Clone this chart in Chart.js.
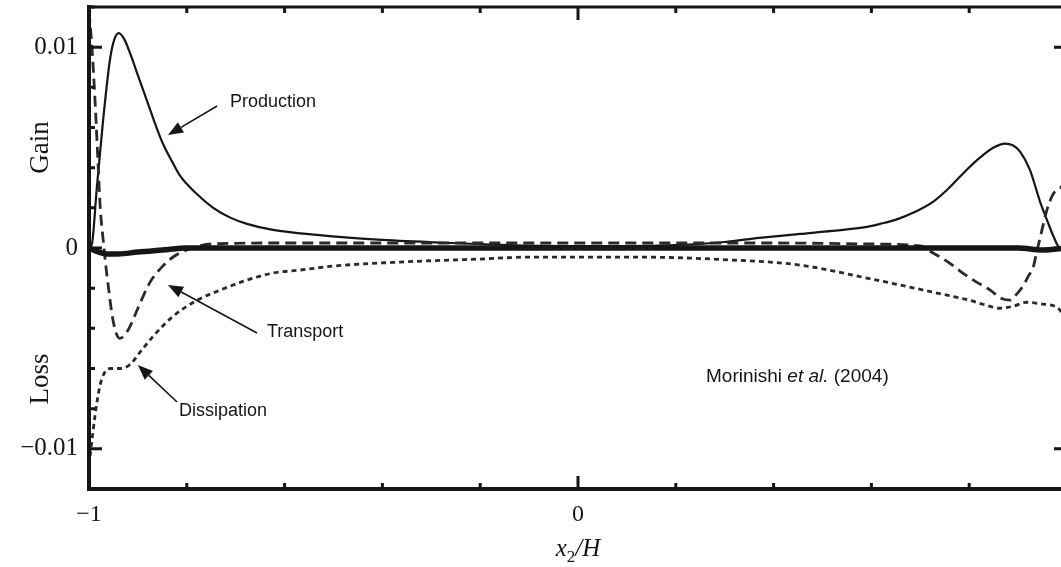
<!DOCTYPE html>
<html>
<head>
<meta charset="utf-8">
<script src="https://cdn.jsdelivr.net/npm/chart.js@4.4.1/dist/chart.umd.min.js"></script>
<style>
  html, body { margin: 0; padding: 0; background: #fff; overflow: hidden; }
  #wrap { width: 1075px; height: 567px; }
</style>
</head>
<body>
<div id="wrap"><canvas id="budget" width="1075" height="567"></canvas></div>
<script>
const prodX = [-1.0, -0.994, -0.984, -0.971, -0.957, -0.948, -0.939, -0.928, -0.916, -0.9, -0.881, -0.865, -0.849, -0.83, -0.814, -0.78, -0.746, -0.71, -0.677, -0.624, -0.534, -0.4, -0.26, -0.1, 0.0, 0.1, 0.2, 0.3, 0.37, 0.454, 0.52, 0.591, 0.618, 0.655, 0.685, 0.726, 0.755, 0.795, 0.822, 0.85, 0.873, 0.89, 0.904, 0.924, 0.945, 0.959, 0.972, 0.986, 1.0];
const prodY = [0, 0.0002, 0.0030, 0.0064, 0.0094, 0.0104, 0.0107, 0.0104, 0.0097, 0.0086, 0.0073, 0.0062, 0.0052, 0.0043, 0.0036, 0.0027, 0.0020, 0.0015, 0.0012, 0.0009, 0.00065, 0.0004, 0.00025, 0.00012, 0.0001, 0.0001, 0.00015, 0.0003, 0.0005, 0.0007, 0.00085, 0.00105, 0.0012, 0.00145, 0.00175, 0.0023, 0.0029, 0.0039, 0.0045, 0.0050, 0.0052, 0.0051, 0.0048, 0.0039, 0.0023, 0.0014, 0.0006, 0.0, 0.0];

const transX = [-1.0, -0.994, -0.988, -0.982, -0.977, -0.971, -0.966, -0.96, -0.953, -0.945, -0.937, -0.926, -0.916, -0.9, -0.875, -0.849, -0.825, -0.8, -0.75, -0.6, -0.4, -0.2, 0.0, 0.2, 0.4, 0.6, 0.7, 0.726, 0.757, 0.787, 0.815, 0.843, 0.865, 0.885, 0.897, 0.91, 0.921, 0.931, 0.938, 0.945, 0.959, 0.972, 0.99, 1.0];
const transY = [0.0118, 0.0100, 0.0075, 0.0045, 0.0020, 0.0004, -0.0008, -0.0020, -0.0033, -0.0042, -0.0045, -0.0043, -0.0039, -0.0030, -0.0017, -0.0009, -0.0004, -0.0001, 0.0002, 0.00025, 0.00025, 0.00025, 0.00025, 0.00025, 0.00025, 0.0002, 0.0001, -0.00025, -0.0007, -0.00125, -0.0017, -0.0021, -0.0025, -0.0026, -0.0023, -0.0019, -0.0014, -0.00095, -0.0002, 0.0005, 0.0019, 0.0027, 0.0031, 0.0038];

const dissX = [-1.0, -0.995, -0.988, -0.978, -0.968, -0.955, -0.937, -0.916, -0.896, -0.869, -0.828, -0.779, -0.732, -0.677, -0.624, -0.569, -0.5, -0.364, -0.2, -0.092, 0.112, 0.317, 0.454, 0.591, 0.726, 0.8, 0.828, 0.863, 0.89, 0.918, 0.951, 0.986, 1.0];
const dissY = [-0.0108, -0.0098, -0.0084, -0.0069, -0.0062, -0.0060, -0.0060, -0.0058, -0.0052, -0.0044, -0.0034, -0.0026, -0.0021, -0.0016, -0.00125, -0.0011, -0.0009, -0.0007, -0.00055, -0.00045, -0.00045, -0.0006, -0.00085, -0.0015, -0.0022, -0.0026, -0.0028, -0.0030, -0.0029, -0.0027, -0.0028, -0.0031, -0.0045];

const baseX = [-1.0, -0.98, -0.96, -0.94, -0.9, -0.85, -0.8, 0.0, 0.9, 0.95, 1.0];
const baseY = [0, -0.0002, -0.0003, -0.0003, -0.0002, -0.0001, 0, 0, 0, -0.0001, 0];

// axis labels
const xLabelValues = [-1, 0];
const xLabelText = ['\u22121', '0'];
const yLabelValues = [-0.01, 0, 0.01];
const yLabelText = ['\u22120.01', '0', '0.01'];

function zip(xs, ys) {
    return xs.map(function (x, i) { return { x: x, y: ys[i] }; });
}

function findLabel(values, texts, v) {
    for (let i = 0; i < values.length; i++) {
        if (Math.abs(values[i] - v) < 1e-9) return texts[i];
    }
    return null;
}

const ink = '#161616';

// frame with inward ticks on all four sides
const framePlugin = {
    id: 'frame',
    afterDatasetsDraw(chart) {
        const c = chart.ctx;
        const a = chart.chartArea;
        const xs = chart.scales.x, ys = chart.scales.y;
        c.save();
        c.strokeStyle = ink;
        c.lineCap = 'butt';
        c.lineWidth = 4;
        c.beginPath();
        c.moveTo(a.left, a.top - 2); c.lineTo(a.left, a.bottom + 2);
        c.moveTo(a.left - 2, a.bottom); c.lineTo(a.right + 2, a.bottom);
        c.moveTo(a.right, a.top); c.lineTo(a.right, a.bottom);
        c.stroke();
        c.lineWidth = 3;
        c.beginPath();
        c.moveTo(a.left, a.top); c.lineTo(a.right, a.top);
        c.stroke();

        c.lineWidth = 3;
        ys.ticks.forEach(function (t) {
            const py = ys.getPixelForValue(t.value);
            const len = findLabel(yLabelValues, yLabelText, t.value) !== null ? 13 : 6;
            c.beginPath();
            c.moveTo(a.left, py); c.lineTo(a.left + len, py);
            c.moveTo(a.right, py); c.lineTo(a.right - len, py);
            c.stroke();
        });
        xs.ticks.forEach(function (t) {
            const px = xs.getPixelForValue(t.value);
            const len = findLabel(xLabelValues, xLabelText, t.value) !== null ? 13 : 6;
            c.beginPath();
            c.moveTo(px, a.bottom); c.lineTo(px, a.bottom - len);
            c.moveTo(px, a.top); c.lineTo(px, a.top + len);
            c.stroke();
        });
        c.restore();
    }
};

// curve names, arrows, citation and axis titles
const notes = [
    { text: 'Production', x: -0.7117, y: 0.00727, from: [-0.738, 0.00707], to: [-0.8384, 0.00563] },
    { text: 'Transport', x: -0.636, y: -0.00418, from: [-0.6564, -0.00423], to: [-0.8384, -0.00184] },
    { text: 'Dissipation', x: -0.816, y: -0.00812, from: [-0.82, -0.00767], to: [-0.9, -0.00583] }
];

const notesPlugin = {
    id: 'notes',
    afterDraw(chart) {
        const c = chart.ctx;
        const xs = chart.scales.x, ys = chart.scales.y;
        c.save();
        c.fillStyle = ink;
        c.strokeStyle = ink;
        c.textBaseline = 'middle';
        c.textAlign = 'left';
        c.font = '18px "Liberation Sans", Arial, sans-serif';
        notes.forEach(function (n) {
            c.fillText(n.text, xs.getPixelForValue(n.x), ys.getPixelForValue(n.y));
            const x0 = xs.getPixelForValue(n.from[0]), y0 = ys.getPixelForValue(n.from[1]);
            const x1 = xs.getPixelForValue(n.to[0]), y1 = ys.getPixelForValue(n.to[1]);
            const ang = Math.atan2(y1 - y0, x1 - x0);
            const hl = 15, hw = 6;
            const bx = x1 - hl * Math.cos(ang), by = y1 - hl * Math.sin(ang);
            c.lineWidth = 1.6;
            c.beginPath();
            c.moveTo(x0, y0); c.lineTo(bx, by);
            c.stroke();
            c.beginPath();
            c.moveTo(x1, y1);
            c.lineTo(bx + hw * Math.sin(ang), by - hw * Math.cos(ang));
            c.lineTo(bx - hw * Math.sin(ang), by + hw * Math.cos(ang));
            c.closePath();
            c.fill();
        });

        // citation
        let cx = xs.getPixelForValue(0.2618);
        const cy = ys.getPixelForValue(-0.00642);
        c.font = '19px "Liberation Sans", Arial, sans-serif';
        c.fillText('Morinishi ', cx, cy);
        cx += c.measureText('Morinishi ').width;
        c.font = 'italic 19px "Liberation Sans", Arial, sans-serif';
        c.fillText('et al.', cx, cy);
        cx += c.measureText('et al. ').width;
        c.font = '19px "Liberation Sans", Arial, sans-serif';
        c.fillText('(2004)', cx, cy);

        // Gain / Loss
        c.font = '27px "Liberation Serif", "Times New Roman", serif';
        c.textAlign = 'center';
        [['Gain', 0.005], ['Loss', -0.00652]].forEach(function (g) {
            c.save();
            c.translate(41, ys.getPixelForValue(g[1]));
            c.rotate(-Math.PI / 2);
            c.fillText(g[0], 0, 0);
            c.restore();
        });

        // x2/H
        const mid = xs.getPixelForValue(0);
        const base = 556;
        c.textAlign = 'left';
        c.textBaseline = 'alphabetic';
        const f1 = 'italic 25px "Liberation Serif", "Times New Roman", serif';
        const f2 = '17px "Liberation Serif", "Times New Roman", serif';
        c.font = f1; const wx = c.measureText('x').width;
        c.font = f2; const w2 = c.measureText('2').width;
        c.font = f1; const wh = c.measureText('/H').width;
        let px = mid - (wx + w2 + wh) / 2;
        c.font = f1; c.fillText('x', px, base); px += wx;
        c.font = f2; c.fillText('2', px, base + 6); px += w2;
        c.font = f1; c.fillText('/H', px, base);
        c.restore();
    }
};

new Chart(document.getElementById('budget'), {
    type: 'line',
    data: {
        datasets: [
            {
                label: 'Zero',
                data: zip(baseX, baseY),
                borderColor: ink,
                borderWidth: 5.5,
                pointRadius: 0,
                cubicInterpolationMode: 'monotone'
            },
            {
                label: 'Dissipation',
                data: zip(dissX, dissY),
                borderColor: '#2a2a2a',
                borderWidth: 2.8,
                borderDash: [5, 4],
                pointRadius: 0,
                cubicInterpolationMode: 'monotone'
            },
            {
                label: 'Transport',
                data: zip(transX, transY),
                borderColor: '#2a2a2a',
                borderWidth: 2.8,
                borderDash: [11, 6],
                pointRadius: 0,
                cubicInterpolationMode: 'monotone'
            },
            {
                label: 'Production',
                data: zip(prodX, prodY),
                borderColor: ink,
                borderWidth: 2.2,
                pointRadius: 0,
                cubicInterpolationMode: 'monotone'
            }
        ]
    },
    options: {
        responsive: false,
        animation: false,
        devicePixelRatio: 1,
        layout: {
            padding: { left: 0, top: 7, right: 8, bottom: 0 }
        },
        scales: {
            x: {
                type: 'linear',
                min: -1,
                max: 1,
                afterFit: function (s) {
                    s.height = 78;
                    s.paddingLeft = 0; s.paddingRight = 0;
                },
                grid: { display: false, drawTicks: false },
                border: { display: false },
                ticks: {
                    stepSize: 0.2,
                    autoSkip: false,
                    maxRotation: 0,
                    padding: 11,
                    color: ink,
                    font: { family: '"Liberation Serif", "Times New Roman", serif', size: 24 },
                    callback: function (v) {
                        const t = findLabel(xLabelValues, xLabelText, v);
                        return t === null ? '' : t;
                    }
                }
            },
            y: {
                min: -0.012,
                max: 0.012,
                afterFit: function (s) {
                    s.width = 89;
                    s.paddingTop = 0; s.paddingBottom = 0;
                },
                grid: { display: false, drawTicks: false },
                border: { display: false },
                ticks: {
                    stepSize: 0.002,
                    autoSkip: false,
                    padding: 11,
                    color: ink,
                    font: { family: '"Liberation Serif", "Times New Roman", serif', size: 25 },
                    callback: function (v) {
                        const t = findLabel(yLabelValues, yLabelText, v);
                        return t === null ? '' : t;
                    }
                }
            }
        },
        plugins: {
            legend: { display: false },
            tooltip: { enabled: false }
        }
    },
    plugins: [framePlugin, notesPlugin]
});
</script>
</body>
</html>
